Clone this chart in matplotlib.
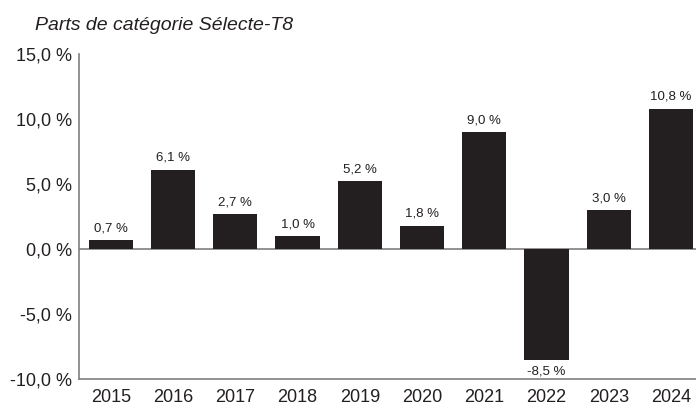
import matplotlib.pyplot as plt
from matplotlib import font_manager

years = ['2015', '2016', '2017', '2018', '2019', '2020', '2021', '2022', '2023', '2024']
values = [0.7, 6.1, 2.7, 1.0, 5.2, 1.8, 9.0, -8.5, 3.0, 10.8]
yticks = [-10, -5, 0, 5, 10, 15]
title = 'Parts de catégorie Sélecte-T8'

names = {f.name for f in font_manager.fontManager.ttflist}
if 'Liberation Sans Narrow' in names:
    plt.rcParams['font.family'] = ['Liberation Sans Narrow', 'DejaVu Sans']
else:
    plt.rcParams['font.family'] = ['Liberation Sans', 'DejaVu Sans']


def fmt(v):
    return f'{v:.1f}'.replace('.', ',') + ' %'


fig = plt.figure(figsize=(6.96, 4.12), dpi=100)
ax = fig.add_axes([0.1135, 0.080, 0.8865, 0.789])

x = list(range(len(years)))
ax.bar(x, values, width=0.71, color='#231f20', zorder=3)
ax.axhline(0, color='#7f7f7f', lw=1.2, zorder=2)

for i, v in enumerate(values):
    if v >= 0:
        ax.text(i, v + 0.45, fmt(v), ha='center', va='bottom', fontsize=9.5, color='#231f20')
    else:
        ax.text(i, v - 0.45, fmt(v), ha='center', va='top', fontsize=9.5, color='#231f20')

ax.set_xlim(-0.51, 9.4)
ax.set_ylim(-10, 15)
ax.set_xticks(x)
ax.set_xticklabels(years)
ax.set_yticks(yticks)
ax.set_yticklabels([fmt(t) for t in yticks])
ax.tick_params(axis='both', length=0, labelsize=13, colors='#231f20')
ax.tick_params(axis='y', pad=5)
ax.tick_params(axis='x', pad=7)

for side in ['top', 'right']:
    ax.spines[side].set_visible(False)
for side in ['left', 'bottom']:
    ax.spines[side].set_color('#7f7f7f')
    ax.spines[side].set_linewidth(1.2)

fig.text(0.05, 0.937, title, fontsize=14, style='italic', color='#231f20', va='center')

fig.savefig('out.png', dpi=100)
